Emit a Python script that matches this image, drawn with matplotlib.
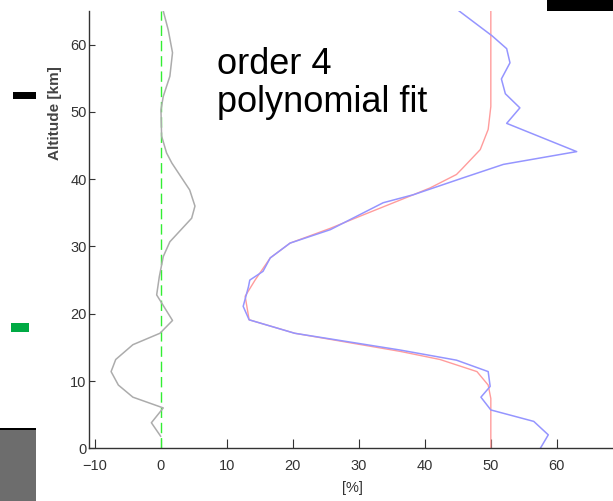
import matplotlib
matplotlib.use("Agg")
import matplotlib.pyplot as plt
from matplotlib.patches import Rectangle

plt.rcParams['font.family'] = ['Liberation Sans', 'DejaVu Sans']

# measured profile (blue), altitude in km vs value in %
alt_meas = [65.0, 61.3, 59.4, 57.3, 54.9, 52.7, 50.6, 48.3, 44.1, 42.2, 40.2, 37.7,
            36.5, 35.5, 32.5, 30.5, 28.3, 26.3, 25.0, 24.0, 21.1, 19.1, 17.1, 14.6,
            13.1, 11.4, 9.2, 7.6, 5.7, 4.0, 2.0, 0.0]
val_meas = [45.2, 50.2, 52.4, 52.9, 51.6, 52.2, 54.4, 52.4, 63.0, 51.9, 45.8, 38.3,
            33.7, 31.7, 25.7, 19.6, 16.6, 15.5, 13.5, 13.3, 12.5, 13.4, 20.3, 36.3,
            44.8, 49.6, 49.9, 48.5, 50.0, 56.5, 58.7, 57.5]

# order 4 polynomial fit (red)
alt_fit = [65.0, 50.8, 47.4, 44.4, 41.5, 40.7, 38.7, 37.7, 34.7, 32.7, 30.5, 28.3,
           25.0, 22.6, 19.1, 17.1, 14.4, 13.2, 11.4, 9.4, 7.4, 0.0]
val_fit = [50.0, 50.0, 49.6, 48.4, 45.6, 44.8, 40.8, 38.3, 30.7, 25.7, 19.6, 16.6,
           14.3, 12.8, 13.4, 20.3, 36.3, 42.3, 47.9, 49.6, 50.0, 50.0]

# residual (gray)
alt_res = [65.0, 62.2, 58.8, 55.3, 52.3, 50.3, 46.4, 43.9, 42.4, 38.4, 36.0, 34.2,
           30.7, 28.5, 25.5, 22.8, 19.0, 17.1, 15.4, 13.2, 11.4, 9.4, 7.6, 6.0,
           3.8, 1.8]
val_res = [0.4, 1.15, 1.8, 1.4, 0.4, 0.05, 0.15, 0.9, 1.7, 4.4, 5.2, 4.7,
           1.4, 0.4, -0.2, -0.6, 1.8, -0.1, -4.2, -6.8, -7.5, -6.4, -4.2, 0.4,
           -1.4, 0.0]

W, H = 613, 501
fig = plt.figure(figsize=(W / 100, H / 100), dpi=100)
ax = fig.add_axes([89.3 / W, (H - 448.3) / H, 1 - 89.3 / W, (448.3 - 11) / H])

ax.axvline(0, color='#33ee33', lw=1.0, dashes=(7.5, 3.5))
ax.plot(val_res, alt_res, color='#acacac', lw=1.1)
ax.plot(val_fit, alt_fit, color='#ff9c9c', lw=1.0)
ax.plot(val_meas, alt_meas, color='#9595ff', lw=1.1)

ax.set_xlim(-10.8, 68.5)
ax.set_ylim(0, 65)
ax.set_xticks([-10, 0, 10, 20, 30, 40, 50, 60])
ax.set_yticks([0, 10, 20, 30, 40, 50, 60])
for s in ['top', 'right']:
    ax.spines[s].set_visible(False)
for s in ['left', 'bottom']:
    ax.spines[s].set_color('#333333')
    ax.spines[s].set_linewidth(1.0)
ax.tick_params(axis='x', direction='in', length=6.5, pad=8, labelsize=10.5,
               colors='#333333')
ax.tick_params(axis='y', direction='in', length=4, pad=2, labelsize=10.5,
               colors='#333333')

fig.text(55 / W, 1 - 113.5 / H, 'Altitude [km]', rotation=90, ha='center',
         va='center', fontsize=11, color='#444444', fontweight='bold')
fig.text(352.7 / W, 1 - 488 / H, '[%]', ha='center', va='center',
         fontsize=10.5, color='#333333')

fig.text(216.7 / W, 1 - 111.7 / H, 'order 4\npolynomial fit', ha='left',
         va='baseline', fontsize=26, color='black', linespacing=1.1)


def box(x0, y0, x1, y1, color):
    fig.patches.append(Rectangle((x0 / W, 1 - y1 / H), (x1 - x0) / W,
                                 (y1 - y0) / H, transform=fig.transFigure,
                                 facecolor=color, edgecolor='none'))


box(547, 0, 613, 11, 'black')
box(13, 92, 36, 99, 'black')
box(11, 323, 29, 332, '#00aa44')
box(0, 428, 36, 501, '#6d6d6d')
box(0, 427.5, 36, 430, 'black')

fig.savefig('out.png', dpi=100)
